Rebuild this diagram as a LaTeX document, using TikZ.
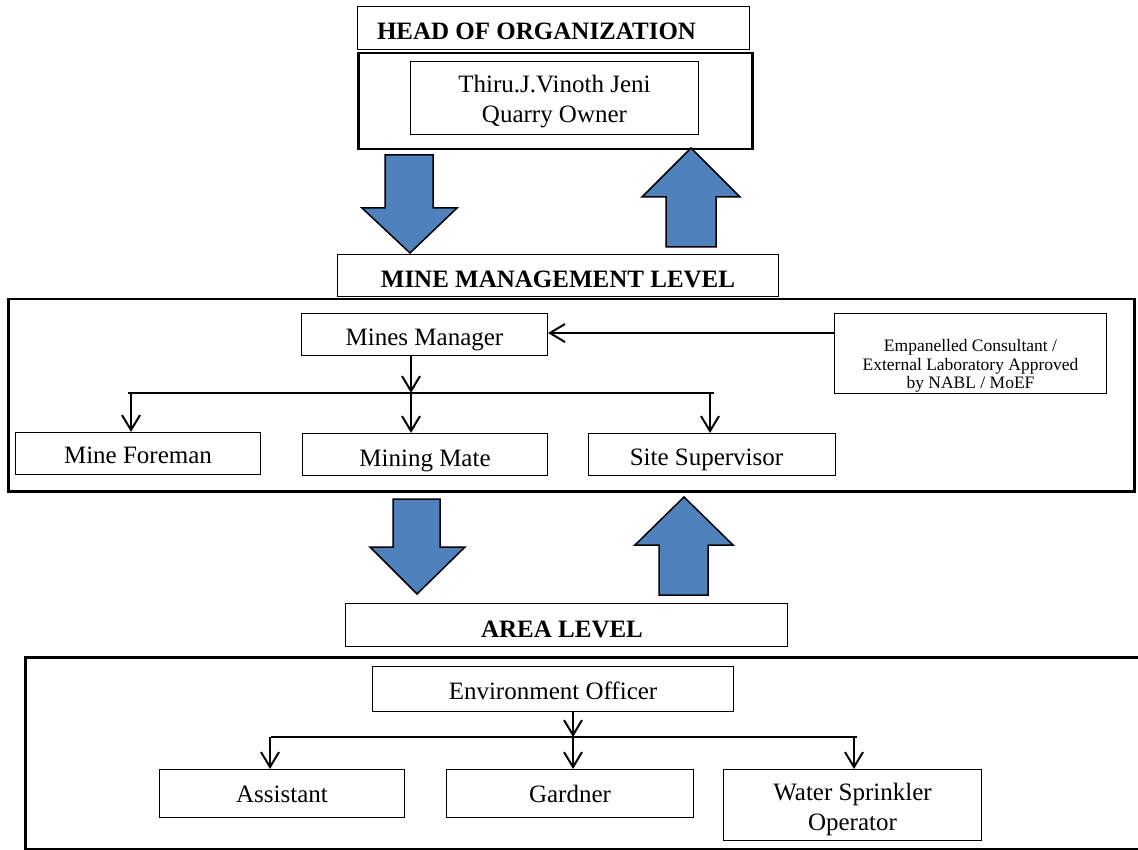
\documentclass[tikz,border=0pt]{standalone}
\usepackage{fontspec}
\setmainfont{Liberation Serif}
\usetikzlibrary{arrows.meta}

\begin{document}
\begin{tikzpicture}[x=1pt,y=-1pt,
    link/.style={line width=2pt,-{Straight Barb[length=15pt,width=18pt]}},
    wire/.style={line width=2pt},
    frame/.style={draw,line width=2.5pt,anchor=north west,inner sep=0pt},
    blockarrow/.style={fill={rgb,255:red,79;green,129;blue,189},draw=black,line width=1.5pt,line join=miter}]

      \useasboundingbox (0,0) rectangle (1138,850);

      \node[frame,minimum width=394pt,minimum height=96pt] (headframe) at (357,52) {};
      \node[frame,minimum width=1126pt,minimum height=192pt] (mineframe) at (7,298) {};
      \node[frame,minimum width=1130pt,minimum height=192pt] (areaframe) at (24,656) {};

      \begin{scope}[every node/.style={draw,line width=1pt,anchor=north west,inner sep=0pt,
          font=\fontsize{25}{30}\selectfont}]
        \node[font=\fontsize{25}{30}\selectfont\bfseries,minimum width=392pt,text height=33pt,text depth=10pt] (head) at (357,6) {HEAD OF ORGANIZATION\kern34pt};
        \node[align=center,minimum width=288pt,text height=61pt,text depth=12pt] (owner) at (410,61) {Thiru.J.Vinoth Jeni\\Quarry Owner};
        \node[font=\fontsize{25}{30}\selectfont\bfseries,minimum width=441pt,text height=33pt,text depth=9pt] (minelevel) at (337,254) {MINE MANAGEMENT LEVEL};
        \node[minimum width=246pt,text height=32pt,text depth=10pt] (manager) at (301,313) {Mines Manager};
        \node[align=center,font=\fontsize{17.5}{18.5}\selectfont,minimum width=272pt,text height=75pt,text depth=5pt] (consult) at (834,313) {Empanelled Consultant /\\External Laboratory Approved\\by NABL / MoEF};
        \node[minimum width=245pt,text height=31pt,text depth=11pt] (foreman) at (15,432) {Mine Foreman};
        \node[minimum width=245pt,text height=33pt,text depth=9pt] (mate) at (302,433) {Mining Mate};
        \node[minimum width=247pt,text height=32pt,text depth=10pt] (site) at (588,433) {Site Supervisor\kern11pt};
        \node[font=\fontsize{25}{30}\selectfont\bfseries,minimum width=442pt,text height=34pt,text depth=9pt] (arealevel) at (345,603) {AREA LEVEL\kern9pt};
        \node[minimum width=361pt,text height=33pt,text depth=12pt] (envofficer) at (372,666) {Environment Officer};
        \node[minimum width=245pt,text height=33pt,text depth=15pt] (assistant) at (159,769) {Assistant};
        \node[minimum width=247pt,text height=33pt,text depth=15pt] (gardner) at (446,769) {Gardner};
        \node[align=center,minimum width=258pt,text height=61pt,text depth=10pt] (sprinkler) at (723,769) {Water Sprinkler\\Operator};
      \end{scope}

      \draw[blockarrow] (385,155) -- (433,155) -- (433,208) -- (457,208) -- (410,253) -- (362,208) -- (385,208) -- cycle;
      \draw[blockarrow] (691,148) -- (740,197) -- (716,197) -- (716,247) -- (666,247) -- (666,197) -- (642,197) -- cycle;
      \draw[blockarrow] (393,499) -- (440,499) -- (440,547) -- (465,547) -- (417,594) -- (370,547) -- (393,547) -- cycle;
      \draw[blockarrow] (684,497) -- (733,545) -- (708,545) -- (708,595) -- (659,595) -- (659,545) -- (635,545) -- cycle;

      \coordinate (mjoin) at (411,393);
      \coordinate (mleft) at (128,393);
      \coordinate (mright) at (714,393);
      \coordinate (fjoin) at (131,393);
      \coordinate (sjoin) at (710,393);
      \coordinate (cin) at (834,333);

      \draw[wire] (mleft) -- (mright);
      \draw[link] (manager.south -| mjoin) -- (mjoin);
      \draw[link] (mjoin) -- (mjoin |- mate.north);
      \draw[link] (fjoin) -- (fjoin |- foreman.north);
      \draw[link] (sjoin) -- (sjoin |- site.north);
      \draw[link] (cin) -- (cin -| manager.east);

      \coordinate (ajoin) at (573,737);
      \coordinate (aleft) at (271,737);
      \coordinate (aright) at (857,737);
      \coordinate (asjoin) at (270,737);
      \coordinate (wjoin) at (854,737);

      \draw[wire] (aleft) -- (aright);
      \draw[link] (envofficer.south -| ajoin) -- (ajoin);
      \draw[link] (ajoin) -- (ajoin |- gardner.north);
      \draw[link] (asjoin) -- (asjoin |- assistant.north);
      \draw[link] (wjoin) -- (wjoin |- sprinkler.north);

    \end{tikzpicture}
\end{document}
